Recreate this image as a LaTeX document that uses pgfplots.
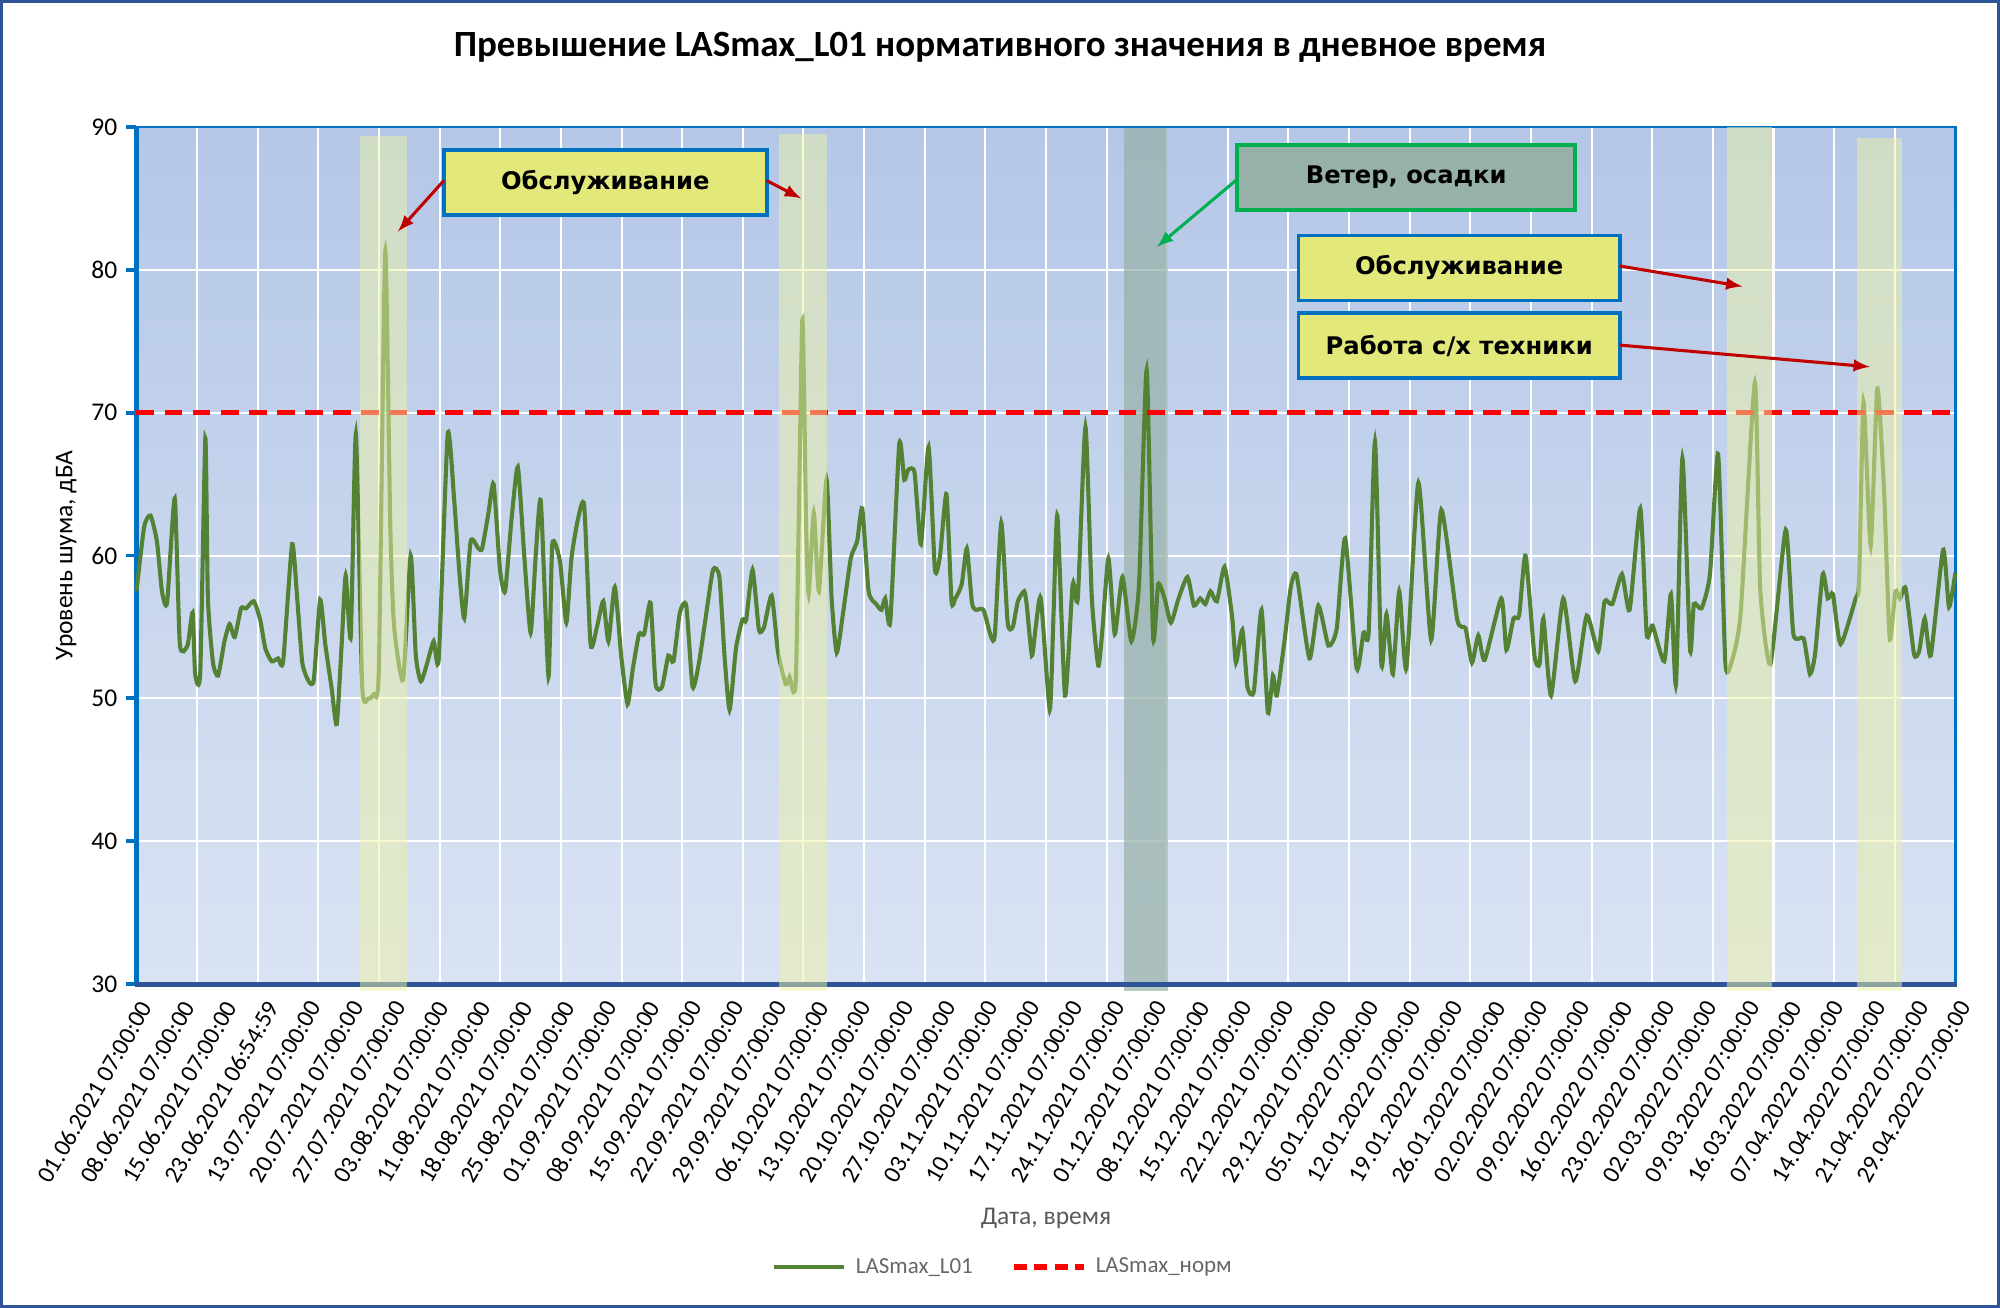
\documentclass[border=0pt]{standalone}
\usepackage{pgfplots}
\pgfplotsset{compat=1.18}
\usepackage{fontspec}
\setmainfont{Carlito}
\newfontfamily\boxfont{DejaVu Sans}
\definecolor{bgtop}{HTML}{B4C7E7}
\definecolor{bgbot}{HTML}{DAE3F3}
\definecolor{lgreen}{HTML}{548235}
\definecolor{axblue}{HTML}{0070C0}
\definecolor{axdark}{HTML}{2F5597}
\definecolor{boxy}{HTML}{E2E87A}
\definecolor{boxg}{HTML}{97B0A8}
\definecolor{arrred}{HTML}{C00000}
\definecolor{arrgreen}{HTML}{00B050}
\begin{document}
\begin{tikzpicture}
\begin{axis}[
  scale only axis, width=713pt, height=336pt,
  xmin=107, xmax=1533, ymin=30, ymax=90,
  clip=false,
  axis background/.style={top color=bgtop, bottom color=bgbot},
  axis line style={draw=none},
  ytick={30,40,...,90}, ymajorgrids, grid style={white, line width=0.8pt},
  yticklabel style={font=\fontsize{10}{11}\selectfont, /pgf/number format/assume math mode=true},
  xtick={107,140.16,173.33,206.49,239.65,272.81,305.98,339.14,372.30,405.47,438.63,471.79,504.95,538.12,571.28,604.44,637.60,670.77,703.93,737.09,770.26,803.42,836.58,869.74,902.91,936.07,969.23,1002.40,1035.56,1068.72,1101.88,1135.05,1168.21,1201.37,1234.53,1267.70,1300.86,1334.02,1367.19,1400.35,1433.51,1466.67,1499.84,1533},
  xticklabels={01.06.2021 07:00:00,08.06.2021 07:00:00,15.06.2021 07:00:00,23.06.2021 06:54:59,13.07.2021 07:00:00,20.07.2021 07:00:00,27.07.2021 07:00:00,03.08.2021 07:00:00,11.08.2021 07:00:00,18.08.2021 07:00:00,25.08.2021 07:00:00,01.09.2021 07:00:00,08.09.2021 07:00:00,15.09.2021 07:00:00,22.09.2021 07:00:00,29.09.2021 07:00:00,06.10.2021 07:00:00,13.10.2021 07:00:00,20.10.2021 07:00:00,27.10.2021 07:00:00,03.11.2021 07:00:00,10.11.2021 07:00:00,17.11.2021 07:00:00,24.11.2021 07:00:00,01.12.2021 07:00:00,08.12.2021 07:00:00,15.12.2021 07:00:00,22.12.2021 07:00:00,29.12.2021 07:00:00,05.01.2022 07:00:00,12.01.2022 07:00:00,19.01.2022 07:00:00,26.01.2022 07:00:00,02.02.2022 07:00:00,09.02.2022 07:00:00,16.02.2022 07:00:00,23.02.2022 07:00:00,02.03.2022 07:00:00,09.03.2022 07:00:00,16.03.2022 07:00:00,07.04.2022 07:00:00,14.04.2022 07:00:00,21.04.2022 07:00:00,29.04.2022 07:00:00},
  xticklabel style={font=\fontsize{9.6}{10}\selectfont, rotate=60, anchor=east, inner sep=1pt, xshift=0pt, yshift=-5pt},
  major x tick style={draw=none},
  extra x ticks={107,154.53,202.07,249.6,297.13,344.67,392.2,439.73,487.27,534.8,582.33,629.87,677.4,724.93,772.47,820,867.53,915.07,962.6,1010.13,1057.67,1105.2,1152.73,1200.27,1247.8,1295.33,1342.87,1390.4,1437.93,1485.47,1533},
  extra x tick labels={},
  extra x tick style={grid=major, major grid style={white, line width=0.8pt}, major tick length=4pt, tick style={axdark, line width=1.5pt}, tick align=outside},
  ytick style={axblue, line width=1.5pt}, major tick length=4pt, tick align=outside, ytick pos=left, xtick pos=bottom,
]
\fill[fill=boxg, opacity=0.7] (axis cs:881,29.5) rectangle (axis cs:916,90);
% axis lines
\draw[axblue, line width=1pt] (axis cs:107,90) -- (axis cs:1533,90) -- (axis cs:1533,30);
\draw[axblue, line width=2pt] (axis cs:107,30) -- (axis cs:107,90);
\draw[axdark, line width=2pt] (axis cs:106,30) -- (axis cs:1534,30);

\addplot[lgreen, line width=1.6pt, smooth, tension=0.35] coordinates {
(107,57.5)(113,62)(118,62.8)(123,61)(127,57.5)(131,56.7)(137,64)(141,53.8)(147,53.7)(151,56)(153,51.7)(157,51.8)(161,68.2)(163,57)(167,52.5)(171,51.6)(176,54)(180,55.2)(184,54.3)(189,56.3)(193,56.3)(199,56.8)(204,55.5)(208,53.5)(213,52.6)(218,52.8)(222,52.6)(229,60.8)(233,57)(237,52.5)(242,51.2)(246,51.3)(251,56.9)(255,53.8)(260,50.7)(264,48.2)(268,54)(271,58.6)(275,54.3)(279,68.5)(284,50.8)(289,50)(293,50.3)(297,52)(302,81.3)(306,62)(309,55)(316,51.3)(322,60)(326,53)(330,51.2)(335,52.5)(340,54)(344,52.8)(351,68.5)(356,64)(360,59)(364,55.6)(369,61)(375,60.5)(378,60.5)(383,63)(387,65)(392,59)(396,57.5)(401,62.5)(406,66.2)(411,60)(416,54.6)(420,60)(424,63.8)(430,51.5)(433,60.8)(439,59.6)(444,55.3)(448,59.8)(453,62.5)(458,63.5)(463,53.8)(468,55)(473,56.8)(477,54)(482,57.8)(487,53)(492,49.6)(496,52)(501,54.5)(505,54.5)(510,56.7)(514,51)(519,50.8)(524,53)(528,52.6)(533,56)(538,56.5)(543,50.8)(548,52.5)(553,55.5)(559,59)(564,58.5)(568,53)(572,49.2)(577,53.5)(582,55.5)(585,55.5)(590,59)(595,54.8)(599,55)(605,57.2)(610,53.2)(616,51)(619,51.5)(624,51.5)(629,76.5)(632,62)(634,57.3)(638,63)(642,57.5)(648,65.3)(652,57)(656,53.2)(661,56)(667,59.8)(672,61)(676,63.3)(681,57.5)(687,56.6)(691,56.2)(694,57)(698,55.4)(705,67.8)(709,65.3)(712,66)(717,65.8)(722,60.8)(728,67.6)(733,59)(737,60)(742,64.3)(746,56.8)(749,57)(754,58)(758,60.5)(762,56.7)(765,56.2)(771,56.2)(777,54.3)(780,54.5)(785,62.3)(790,55.3)(794,55)(798,56.8)(803,57.5)(805,56.5)(809,53)(812,55)(816,57)(823,49.2)(826,56)(829,62.8)(835,50.2)(841,58)(845,57)(851,69)(856,57)(861,52.3)(864,54.5)(869,59.8)(874,54.5)(880,58.5)(887,54)(893,58)(899,73)(904,54.3)(908,58)(913,57)(918,55.3)(924,57)(931,58.5)(936,56.5)(941,57)(945,56.6)(949,57.5)(954,56.8)(960,59.2)(966,55.7)(969,52.5)(974,54.8)(978,50.8)(983,50.5)(989,56.2)(994,49)(998,51.6)(1001,50.2)(1007,54)(1012,57.8)(1016.6,58.6)(1026.6,52.8)(1033.6,56.5)(1041.5,53.7)(1048,54.9)(1054.6,61.2)(1063.6,52.1)(1069,54.6)(1073,54.6)(1078,68)(1083,52.4)(1087,55.9)(1092,51.7)(1097,57.5)(1102.6,52.1)(1112,65.1)(1122,54.1)(1130,63.2)(1142.5,55.5)(1149,54.9)(1154,52.5)(1159,54.4)(1164,52.7)(1177,57)(1181,53.4)(1186.6,55.6)(1191,55.8)(1196,60)(1203,53)(1207,52.4)(1210,55.6)(1216,50.2)(1225.6,57)(1235,51.2)(1244,55.8)(1253,53.3)(1258,56.8)(1264,56.6)(1271.6,58.7)(1277.6,56.2)(1286,63.3)(1291,54.5)(1295.6,55.1)(1304.8,52.6)(1310,57.3)(1314,51)(1319,66.8)(1325,53.4)(1328,56.6)(1334,56.3)(1340.6,58.7)(1347,67.1)(1352.6,52.6)(1357,52.4)(1364.6,55.9)(1375.8,72.1)(1380,57.7)(1388,52.4)(1400,61.8)(1406,54.5)(1414,54.2)(1419,51.7)(1423,53.1)(1429,58.7)(1433,57)(1437,57.3)(1443,53.8)(1454.8,57)(1457.5,58.2)(1461,70.7)(1466.6,60.7)(1471.8,71.7)(1477,64.7)(1481.5,54.2)(1486,57.5)(1489.6,57)(1494,57.7)(1500.6,53.1)(1504.6,53.3)(1509,55.6)(1513.7,53)(1523.4,60.4)(1528,56.4)(1533,58.8)
};
\addplot[red, line width=2.2pt, dash pattern=on 7pt off 4pt] coordinates {(107,70)(1533,70)};
% yellow bands over the line
\fill[fill={rgb,255:red,236;green,242;blue,165}, opacity=0.5] (axis cs:282,29.5) rectangle (axis cs:319,89.4);
\fill[fill={rgb,255:red,236;green,242;blue,165}, opacity=0.5] (axis cs:611,29.5) rectangle (axis cs:648,89.5);
\fill[fill={rgb,255:red,236;green,242;blue,165}, opacity=0.5] (axis cs:1354,29.5) rectangle (axis cs:1389,90);
\fill[fill={rgb,255:red,236;green,242;blue,165}, opacity=0.5] (axis cs:1456,29.5) rectangle (axis cs:1491,89.2);

% annotation boxes
\node[draw=axblue, line width=1.5pt, fill=boxy, minimum width=126.5pt, minimum height=25.5pt, font=\boxfont\bfseries\fontsize{9.5}{10}\selectfont] at (axis cs:474.5,86.12) {Обслуживание};
\node[draw=arrgreen, line width=1.5pt, fill=boxg, minimum width=132.5pt, minimum height=25.5pt, font=\boxfont\bfseries\fontsize{9.5}{10}\selectfont] at (axis cs:1102.5,86.47) {Ветер, осадки};
\node[draw=axblue, line width=1.5pt, fill=boxy, minimum width=126pt, minimum height=25.5pt, font=\boxfont\bfseries\fontsize{9.5}{10}\selectfont] at (axis cs:1144,80.13) {Обслуживание};
\node[draw=axblue, line width=1.5pt, fill=boxy, minimum width=126pt, minimum height=25.5pt, font=\boxfont\bfseries\fontsize{9.5}{10}\selectfont] at (axis cs:1144,74.69) {Работа с/х техники};
\draw[arrred, line width=1.2pt, -latex] (axis cs:348,86.25) -- (axis cs:312,82.68);
\draw[arrred, line width=1.2pt, -latex] (axis cs:601,86.25) -- (axis cs:628,85.0);
\draw[arrgreen, line width=1.2pt, -latex] (axis cs:970,86.34) -- (axis cs:907,81.61);
\draw[arrred, line width=1.2pt, -latex] (axis cs:1270,80.27) -- (axis cs:1366,78.84);
\draw[arrred, line width=1.2pt, -latex] (axis cs:1270,74.73) -- (axis cs:1466,73.21);

% titles and labels
\node[font=\bfseries\fontsize{14.5}{16}\selectfont] at (axis cs:784,95.55) {Превышение LASmax\_L01 нормативного значения в дневное время};
\node[font=\fontsize{10}{12}\selectfont, rotate=90] at (axis cs:52,60) {Уровень шума, дБА};
\node[font=\fontsize{10}{12}\selectfont, text=black!65] at (axis cs:820,13.57) {Дата, время};
% legend
\draw[lgreen, line width=1.6pt] (axis cs:607,10.18) -- (axis cs:662,10.18);
\node[anchor=west, font=\fontsize{9}{10}\selectfont, text=black!60] at (axis cs:664,10.18) {LASmax\_L01};
\draw[red, line width=2.2pt, dash pattern=on 5pt off 3pt] (axis cs:795,10.18) -- (axis cs:850,10.18);
\node[anchor=west, font=\fontsize{9}{10}\selectfont, text=black!60] at (axis cs:852,10.18) {LASmax\_норм};
% outer frame
\draw[axdark, line width=1pt] (axis cs:1,7.45) rectangle (axis cs:1567,98.8);
\path (axis cs:0,7.41) rectangle (axis cs:1568,98.84);
\end{axis}
\end{tikzpicture}
\end{document}
